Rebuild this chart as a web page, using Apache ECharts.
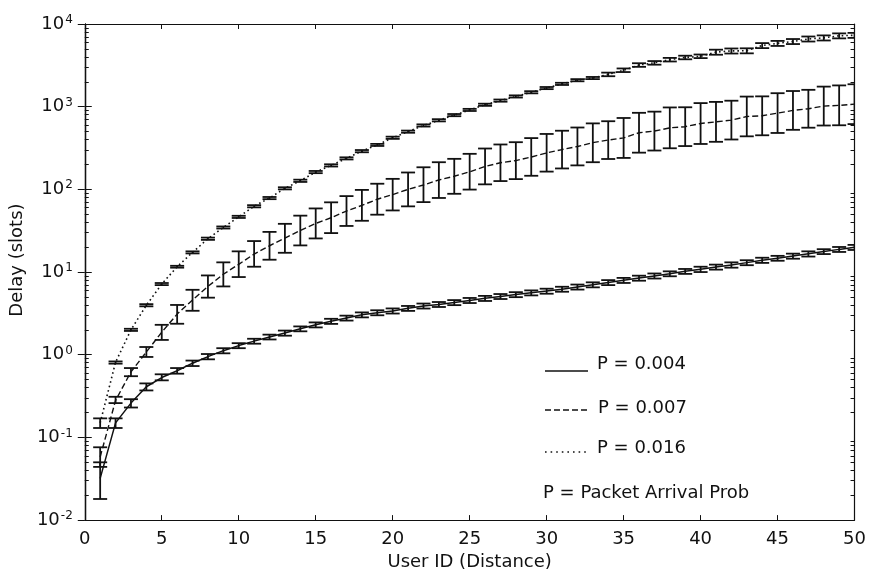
<!DOCTYPE html>
<html>
<head>
<meta charset="utf-8">
<script src="https://cdn.jsdelivr.net/npm/echarts@6/dist/echarts.min.js"></script>
<style>
  html, body { margin: 0; padding: 0; background: #fff; }
  #chart { width: 869px; height: 576px; }
</style>
</head>
<body>
<div id="chart"></div>
<script>
// user id (distance) on the x axis
var userIds = [1, 2, 3, 4, 5, 6, 7, 8, 9, 10, 11, 12, 13, 14, 15, 16, 17, 18, 19, 20,
  21, 22, 23, 24, 25, 26, 27, 28, 29, 30, 31, 32, 33, 34, 35, 36, 37, 38, 39, 40,
  41, 42, 43, 44, 45, 46, 47, 48, 49, 50];

// P = 0.004 (solid)
var solidMean = [0.032, 0.15, 0.26, 0.41, 0.53, 0.64, 0.79, 0.95, 1.12, 1.29, 1.46, 1.64, 1.83, 2.06, 2.30, 2.54, 2.78, 3.04, 3.22, 3.39,
  3.64, 3.89, 4.06, 4.28, 4.54, 4.81, 5.07, 5.34, 5.61, 5.88, 6.21, 6.60, 7.02, 7.47, 7.94, 8.45, 8.98, 9.56, 10.2, 10.8,
  11.5, 12.2, 13.0, 13.9, 14.7, 15.6, 16.6, 17.7, 18.8, 19.9];
var solidLo = [0.018, 0.13, 0.23, 0.37, 0.49, 0.59, 0.73, 0.88, 1.04, 1.20, 1.36, 1.53, 1.70, 1.92, 2.14, 2.36, 2.59, 2.83, 3.0, 3.15,
  3.39, 3.62, 3.78, 3.98, 4.22, 4.47, 4.72, 4.97, 5.22, 5.47, 5.78, 6.14, 6.53, 6.95, 7.38, 7.86, 8.35, 8.89, 9.5, 10.0,
  10.7, 11.3, 12.1, 12.9, 13.7, 14.5, 15.4, 16.5, 17.5, 18.5];
var solidHi = [0.05, 0.17, 0.29, 0.45, 0.58, 0.69, 0.85, 1.02, 1.20, 1.38, 1.56, 1.75, 1.96, 2.20, 2.46, 2.72, 2.97, 3.25, 3.45, 3.63,
  3.89, 4.16, 4.34, 4.58, 4.86, 5.15, 5.42, 5.71, 6.0, 6.29, 6.64, 7.06, 7.51, 7.99, 8.5, 9.04, 9.61, 10.2, 10.9, 11.6,
  12.3, 13.1, 13.9, 14.9, 15.7, 16.7, 17.8, 18.9, 20.1, 21.3];

// P = 0.007 (dashed)
var dashedMean = [0.058, 0.28, 0.62, 1.08, 1.87, 3.1, 4.6, 6.7, 9.4, 12.4, 16.5, 20.8, 25.7, 31.8, 38.7, 45.4, 54.7, 64.0, 76.0, 86.5,
  100, 113, 130, 144, 163, 189, 210, 223, 246, 276, 303, 330, 367, 395, 419, 484, 507, 555, 573, 626,
  655, 688, 761, 776, 836, 901, 944, 1017, 1037, 1073];
var dashedLo = [0.044, 0.26, 0.55, 0.94, 1.51, 2.37, 3.4, 4.9, 6.7, 8.7, 11.6, 14.1, 17.1, 21.0, 25.5, 29.6, 36.1, 41.7, 49.4, 55.6,
  62.3, 70.1, 78.7, 88.4, 99.4, 115, 126, 133, 146, 164, 179, 195, 213, 233, 240, 278, 295, 314, 334, 354,
  376, 401, 438, 451, 481, 525, 557, 592, 596, 616];
var dashedHi = [0.076, 0.31, 0.69, 1.24, 2.3, 4.0, 6.1, 9.1, 13.1, 17.8, 23.7, 30.6, 38.3, 48.1, 58.8, 69.7, 82.9, 98.5, 117, 134,
  160, 185, 213, 234, 269, 312, 349, 372, 417, 468, 512, 560, 628, 667, 730, 843, 871, 979, 984, 1105,
  1142, 1181, 1325, 1333, 1456, 1547, 1599, 1749, 1808, 1868];

// P = 0.016 (dotted)
var dottedMean = [0.15, 0.81, 2.0, 3.97, 7.16, 11.6, 17.3, 25.3, 34.6, 46.5, 62.5, 78.5, 103, 127, 162, 195, 237, 290, 345, 421,
  499, 593, 685, 791, 914, 1055, 1185, 1330, 1495, 1680, 1888, 2091, 2222, 2459, 2761, 3193, 3392, 3707, 3939, 4072,
  4571, 4726, 4749, 5492, 5837, 6150, 6600, 6800, 7200, 7300];
var dottedLo = [0.13, 0.78, 1.94, 3.85, 6.95, 11.3, 16.8, 24.5, 33.6, 45.1, 60.6, 76.1, 99.9, 123, 157, 189, 230, 281, 335, 408,
  484, 575, 664, 767, 887, 1023, 1149, 1290, 1450, 1630, 1831, 2028, 2155, 2336, 2623, 3033, 3222, 3522, 3742, 3868,
  4251, 4395, 4417, 5108, 5428, 5720, 6140, 6320, 6700, 6790];
var dottedHi = [0.17, 0.83, 2.06, 4.09, 7.37, 11.9, 17.8, 26.1, 35.6, 47.9, 64.4, 80.9, 106, 131, 167, 201, 244, 299, 355, 434,
  514, 611, 706, 815, 941, 1087, 1221, 1370, 1540, 1730, 1945, 2154, 2289, 2582, 2899, 3353, 3562, 3892, 4136, 4276,
  4891, 5057, 5081, 5876, 6246, 6580, 7060, 7280, 7700, 7810];

var yMajor = [0.01, 0.1, 1, 10, 100, 1000, 10000];

var ink = '#111';
var font = 'DejaVu Sans';

var yMinor = [];
for (var d = 0; d < yMajor.length - 1; d++) {
  for (var k = 2; k <= 9; k++) yMinor.push(+(k * yMajor[d]).toPrecision(3));
}

function pairs(ys) {
  return userIds.map(function (x, i) { return [x, ys[i]]; });
}
function triples(lo, hi) {
  return userIds.map(function (x, i) { return [x, lo[i], hi[i]]; });
}

function errorBars(capHalf) {
  return function (params, api) {
    var x = api.value(0);
    var a = api.coord([x, api.value(1)]);
    var b = api.coord([x, api.value(2)]);
    var st = { stroke: ink, lineWidth: 1.8 };
    return {
      type: 'group',
      children: [
        { type: 'line', shape: { x1: a[0], y1: a[1], x2: b[0], y2: b[1] }, style: st },
        { type: 'line', shape: { x1: a[0] - capHalf, y1: a[1], x2: a[0] + capHalf, y2: a[1] }, style: st },
        { type: 'line', shape: { x1: b[0] - capHalf, y1: b[1], x2: b[0] + capHalf, y2: b[1] }, style: st }
      ]
    };
  };
}

function lineSeries(ys, dash, w) {
  return {
    type: 'line', data: pairs(ys), symbol: 'none', silent: true,
    lineStyle: { color: ink, width: w, type: dash }
  };
}
function barSeries(lo, hi) {
  return {
    type: 'custom', data: triples(lo, hi), renderItem: errorBars(7), silent: true, clip: true,
    encode: { x: 0, y: [1, 2] }
  };
}

function logAxis(pos, ticks, len, labels) {
  return {
    type: 'log', logBase: 10, min: 0.01, max: 10000, position: pos,
    axisLine: { show: true, lineStyle: { color: ink, width: 1.2 } },
    axisTick: { show: true, inside: true, length: len, customValues: ticks, lineStyle: { color: ink } },
    axisLabel: labels ? {
      show: true, customValues: yMajor, margin: 12, color: ink,
      formatter: function (v) {
        return '{b|10}{sup|' + Math.round(Math.log(v) / Math.LN10) + '}';
      },
      rich: {
        b: { fontSize: 18, fontFamily: font, color: ink },
        sup: { fontSize: 12, fontFamily: font, color: ink, verticalAlign: 'top', padding: [0, 0, 8, 1] }
      }
    } : { show: false },
    splitLine: { show: false },
    minorTick: { show: false }
  };
}

var chart = echarts.init(document.getElementById('chart'), null, { renderer: 'canvas' });

var yMain = logAxis('left', yMajor, 7, true);
yMain.name = 'Delay (slots)';
yMain.nameLocation = 'middle';
yMain.nameGap = 51;
yMain.nameTextStyle = { fontSize: 18, fontFamily: font, color: ink, padding: [0, 0, 0, 24] };

chart.setOption({
  animation: false,
  backgroundColor: '#fff',
  grid: { left: 80, right: 12, top: 24, bottom: 51 },
  xAxis: [{
    type: 'value', min: 0, max: 50, interval: 5, position: 'bottom',
    name: 'User ID (Distance)', nameLocation: 'middle', nameGap: 32,
    nameTextStyle: { fontSize: 18, fontFamily: font, color: ink },
    axisLine: { show: true, lineStyle: { color: ink, width: 1.2 } },
    axisTick: { inside: true, length: 5, lineStyle: { color: ink } },
    axisLabel: { fontSize: 18, fontFamily: font, color: ink, margin: 10 },
    splitLine: { show: false }
  }, {
    type: 'value', min: 0, max: 50, interval: 5, position: 'top',
    axisLine: { show: true, lineStyle: { color: ink, width: 1.2 } },
    axisTick: { inside: true, length: 5, lineStyle: { color: ink } },
    axisLabel: { show: false },
    splitLine: { show: false }
  }],
  yAxis: [
    yMain,
    logAxis('right', yMajor, 7, false),
    logAxis('left', yMinor, 4, false),
    logAxis('right', yMinor, 4, false)
  ],
  series: [
    lineSeries(solidMean, 'solid', 1.5),
    barSeries(solidLo, solidHi),
    lineSeries(dashedMean, [6, 3], 1.4),
    barSeries(dashedLo, dashedHi),
    lineSeries(dottedMean, [1.6, 3], 1.6),
    barSeries(dottedLo, dottedHi)
  ],
  graphic: [
    { type: 'line', shape: { x1: 545, y1: 371, x2: 588, y2: 371 }, style: { stroke: ink, lineWidth: 1.4 } },
    { type: 'text', x: 597, y: 364, style: { text: 'P = 0.004', fontSize: 18, fontFamily: font, fill: ink, verticalAlign: 'middle' } },
    { type: 'line', shape: { x1: 545, y1: 410, x2: 590, y2: 410 }, style: { stroke: ink, lineWidth: 1.4, lineDash: [6, 3] } },
    { type: 'text', x: 598, y: 408, style: { text: 'P = 0.007', fontSize: 18, fontFamily: font, fill: ink, verticalAlign: 'middle' } },
    { type: 'line', shape: { x1: 545, y1: 452, x2: 588, y2: 452 }, style: { stroke: ink, lineWidth: 1.6, lineDash: [1.6, 4] } },
    { type: 'text', x: 597, y: 448, style: { text: 'P = 0.016', fontSize: 18, fontFamily: font, fill: ink, verticalAlign: 'middle' } },
    { type: 'text', x: 543, y: 493, style: { text: 'P = Packet Arrival Prob', fontSize: 18, fontFamily: font, fill: ink, verticalAlign: 'middle' } }
  ]
});
</script>
</body>
</html>
